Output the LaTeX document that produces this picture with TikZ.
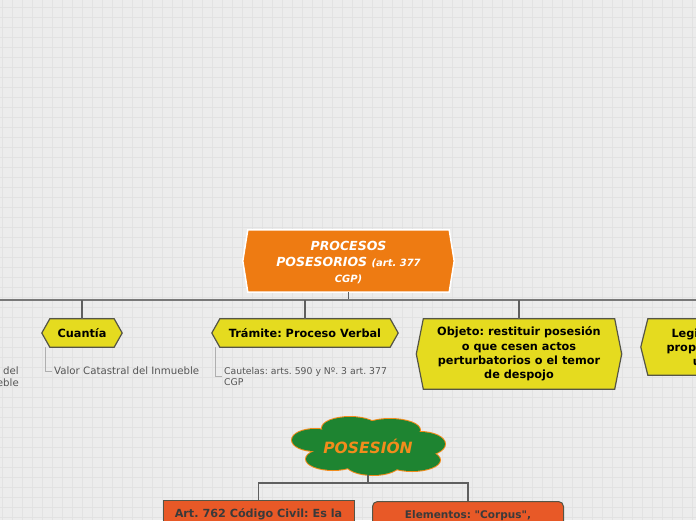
\documentclass[tikz,border=0pt]{standalone}
\usepackage{fontspec}
\setmainfont{DejaVu Sans}
\frenchspacing

\definecolor{paper}{RGB}{236,236,236}
\definecolor{gridgrey}{RGB}{226,226,226}
\definecolor{rootorange}{RGB}{238,123,18}
\definecolor{hexyellow}{RGB}{229,219,31}
\definecolor{hexborder}{RGB}{85,85,70}
\definecolor{cloudgreen}{RGB}{30,132,49}
\definecolor{cloudorange}{RGB}{242,140,28}
\definecolor{boxred}{RGB}{232,89,39}
\definecolor{boxtext}{RGB}{58,58,58}
\definecolor{subgrey}{RGB}{85,85,85}
\definecolor{linegrey}{RGB}{95,95,95}
\definecolor{leafgrey}{RGB}{175,175,175}

\pgfdeclarelayer{grid}
\pgfdeclarelayer{boxes}
\pgfsetlayers{grid,boxes,main}

% hexagon behind a node: node, fill, border, point length
\newcommand{\hexfill}[4]{%
  \begin{pgfonlayer}{boxes}
    \path[fill=#2,draw=#3,line width=1.2] ([xshift=-#4]#1.west) -- (#1.north west) -- (#1.north east)
      -- ([xshift=#4]#1.east) -- (#1.south east) -- (#1.south west) -- cycle;
  \end{pgfonlayer}}

% puffs of the cloud, relative to its centre
\newcommand{\puffs}{
  (-18,-18) ellipse [x radius=28, y radius=11]
  (22,-16) ellipse [x radius=30, y radius=11]
  (-53,-6) ellipse [x radius=23, y radius=11]
  (52,-2) ellipse [x radius=25, y radius=12]
  (-35,13) ellipse [x radius=27, y radius=11]
  (5,18) ellipse [x radius=27, y radius=11]
  (44,14) ellipse [x radius=28, y radius=11]
  (0,0) ellipse [x radius=55, y radius=20]}

\tikzset{
  gridline/.style={gridgrey, line width=1},
  hexnode/.style={inner sep=0pt, align=center, font=\fontsize{11.3}{14.4}\selectfont\bfseries},
  roottext/.style={inner sep=0pt, align=center, text=white, font=\fontsize{12.5}{15.5}\selectfont\bfseries\itshape},
  subtext/.style={inner xsep=2pt, inner ysep=0pt, anchor=west, align=left, text=subgrey},
  trunk/.style={linegrey!85, line width=1.6},
  branch/.style={linegrey, line width=1.1},
  leaf/.style={leafgrey, line width=1},
  flatbox/.style={anchor=north, fill=boxred, draw=hexborder, line width=1, minimum width=191, minimum height=28, inner sep=0pt, text=boxtext}
}

\begin{document}
\begin{tikzpicture}[x=1pt,y=-1pt]
  \useasboundingbox (0,0) rectangle (696,520);
  \clip (0,0) rectangle (696,520);
  \begin{pgfonlayer}{grid}
    \fill[paper] (0,0) rectangle (696,520);
    \foreach \gx in {2,12,...,692} \draw[gridline] (\gx,0) -- (\gx,520);
    \foreach \gy in {7,17,...,517} \draw[gridline] (0,\gy) -- (696,\gy);
  \end{pgfonlayer}

  % main topic (text sits 2pt low in its box)
  \node[roottext, minimum width=201, minimum height=62] (root) at (348.5,263)
    {PROCESOS\\[0.5pt]POSESORIOS {\fontsize{10}{15.5}\selectfont(art. 377}\\[0.5pt]{\fontsize{10}{15.5}\selectfont CGP)}};
  \begin{pgfonlayer}{boxes}
    \path[fill=rootorange,draw=white,line width=1.5] ([shift={(-5,-2)}]root.west) -- ([yshift=2pt]root.north west)
      -- ([yshift=2pt]root.north east) -- ([shift={(5,-2)}]root.east) -- ([yshift=2pt]root.south east)
      -- ([yshift=2pt]root.south west) -- cycle;
  \end{pgfonlayer}

  % subtopics
  \node[hexnode, minimum width=64, minimum height=28] (cuantia) at (82,333) {Cuantía};
  \node[hexnode, minimum width=170, minimum height=28] (tramite) at (305,333) {Trámite: Proceso Verbal};
  \node[hexnode, minimum width=191, minimum height=70] (objeto) at (519,354)
    {Objeto: restituir posesión\\o que cesen actos\\perturbatorios o el temor\\de despojo};
  \node[hexnode, minimum width=176, minimum height=56] (legit) at (736,347)
    {Legitimación activa:\\propietario, poseedor\\usufructuario};
  \hexfill{cuantia}{hexyellow}{hexborder}{8}
  \hexfill{tramite}{hexyellow}{hexborder}{8}
  \hexfill{objeto}{hexyellow}{hexborder}{7}
  \hexfill{legit}{hexyellow}{hexborder}{7}

  % notes
  \node[subtext, font=\fontsize{10.2}{12}\selectfont] (valor) at (52,371) {Valor Catastral del Inmueble};
  \node[subtext, font=\fontsize{9.3}{11.3}\selectfont] (cautelas) at (222,376.5) {Cautelas: arts. 590 y Nº. 3 art. 377\\CGP};
  \node[inner sep=0pt, anchor=east, align=right, text=subgrey, font=\fontsize{10.2}{12}\selectfont] (leftnote) at (19,377) {del\\eble};

  % connectors
  \coordinate (hub) at (348.5,300);
  \coordinate (lend) at (0,300);
  \coordinate (rend) at (696,300);
  \draw[branch] ([yshift=2pt]root.south) -- (hub);
  \draw[trunk] (lend) -- (rend);
  \foreach \kid in {cuantia,tramite,objeto,legit}
    \draw[branch] (\kid.north) -- (\kid.north |- hub);
  \draw[leaf] ([xshift=-4]cuantia.south west) |- (valor.west);
  \draw[leaf] ([xshift=-4]tramite.south west) |- (cautelas.west);

  % second topic
  \node[minimum width=153, minimum height=57, inner sep=0pt, text=cloudorange,
    font=\fontsize{15.5}{18}\selectfont\bfseries\itshape] (posesion) at (368,446) {POSESIÓN};
  \begin{pgfonlayer}{boxes}
    \begin{scope}[shift={(posesion.center)}]
      \draw[cloudorange, line width=2] \puffs;
      \fill[cloudgreen] \puffs;
    \end{scope}
  \end{pgfonlayer}
  \node[flatbox, font=\fontsize{11.2}{14}\selectfont\bfseries] (art) at (258.5,500) {Art. 762 Código Civil: Es la};
  \node[flatbox, rounded corners=5, font=\fontsize{10.5}{13}\selectfont\bfseries] (elementos) at (468,501) {Elementos: \textquotedbl Corpus\textquotedbl,};
  \coordinate (fork) at (368,483);
  \draw[branch] (posesion.south) -- (fork);
  \draw[branch] (art.north) |- (fork) -| (elementos.north);
\end{tikzpicture}
\end{document}
